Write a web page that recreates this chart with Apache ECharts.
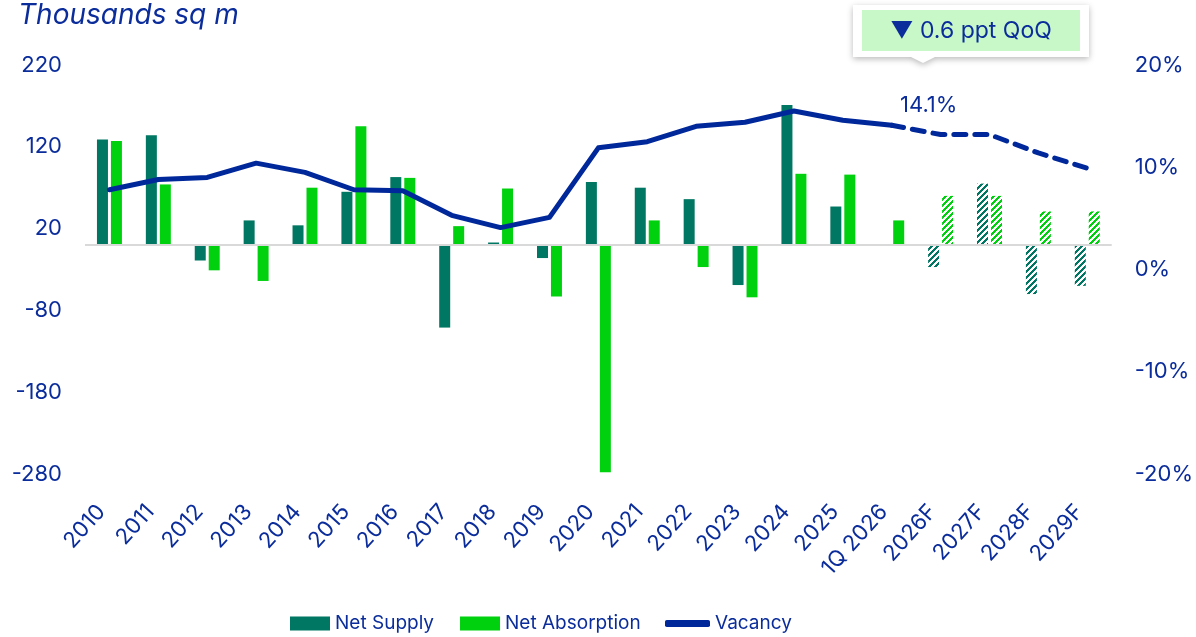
<!DOCTYPE html>
<html>
<head>
<meta charset="utf-8">
<script src="https://cdn.jsdelivr.net/npm/echarts@6/dist/echarts.min.js"></script>
<style>
  html, body { margin: 0; padding: 0; background: #ffffff; }
  #chart { width: 1196px; height: 637px; }
</style>
</head>
<body>
<div id="chart"></div>
<script>
// Office market: net supply / net absorption (thousands sq m) and vacancy rate (%)
const categories = ['2010', '2011', '2012', '2013', '2014', '2015', '2016', '2017', '2018', '2019',
  '2020', '2021', '2022', '2023', '2024', '2025', '1Q 2026', '2026F', '2027F', '2028F', '2029F'];
const netSupply = [129, 134, -19, 30, 24, 65, 83, -101, 3, -16, 77, 70, 56, -49, 171, 47, 0, -27, 75, -60, -50];
const netAbsorption = [127, 74, -31, -44, 70, 145, 82, 23, 69, -63, -278, 30, -27, -64, 87, 86, 30, 60, 60, 41, 41];
const vacancy = [7.8, 8.8, 9.0, 10.4, 9.5, 7.8, 7.7, 5.3, 4.1, 5.1, 11.9, 12.5, 14.0, 14.4, 15.5, 14.6, 14.1, 13.2, 13.2, 11.4, 9.9];
const forecastFrom = 17;          // first forecast category (2026F)
const lastActual = 16;            // 1Q 2026
const leftTicks = { min: -280, max: 220, interval: 100 };
const rightTicks = { min: -20, max: 20, interval: 10 };
const changeNote = '\u25BC 0.6 ppt QoQ';

const NAVY = '#0B2D9B';
const LINE = '#00289B';
const TEAL = '#007762';
const GREEN = '#00D10F';
const FONT = 'Inter';

// Hatched fill for forecast bars: "/" diagonal stripes
function stripes(color) {
  const c = document.createElement('canvas');
  c.width = 6; c.height = 6;
  const ctx = c.getContext('2d');
  ctx.fillStyle = '#ffffff';
  ctx.fillRect(0, 0, 6, 6);
  ctx.fillStyle = color;
  for (let y = 0; y < 6; y++) {
    for (let x = 0; x < 6; x++) {
      if ((x + y) % 6 < 3) ctx.fillRect(x, y, 1, 1);
    }
  }
  return { image: c, repeat: 'repeat' };
}

function barData(values, color) {
  const hatch = stripes(color);
  return values.map((v, i) => i >= forecastFrom
    ? { value: v, itemStyle: { color: hatch } }
    : v);
}

const solidVac = vacancy.map((v, i) => i <= lastActual ? v : null);
const dashedVac = vacancy.map((v, i) => i >= lastActual ? v : null);

const chart = echarts.init(document.getElementById('chart'), null, { renderer: 'canvas' });

chart.setOption({
  animation: false,
  textStyle: { fontFamily: FONT, color: NAVY },
  title: {
    text: 'Thousands sq m',
    left: 13, top: -3,
    textStyle: { fontFamily: FONT, fontStyle: 'italic', fontWeight: 'normal', fontSize: 28, color: NAVY }
  },
  grid: { left: 85, right: 84, top: 65, bottom: 163, containLabel: false },
  legend: [
    {
      data: [{ name: 'Net Supply', icon: 'rect' }, { name: 'Net Absorption', icon: 'rect' }],
      left: 290, top: 614, padding: 0,
      itemWidth: 40, itemHeight: 14, itemGap: 26,
      textStyle: { fontFamily: FONT, fontSize: 19, color: NAVY }
    },
    {
      data: [{ name: 'Vacancy', icon: 'roundRect' }],
      left: 665, top: 614, padding: 0,
      itemWidth: 45, itemHeight: 7,
      textStyle: { fontFamily: FONT, fontSize: 19, color: NAVY }
    }
  ],
  xAxis: {
    type: 'category',
    data: categories,
    axisLine: { show: false },
    axisTick: { show: false },
    axisLabel: {
      rotate: 48, margin: 25, fontSize: 22, color: NAVY, fontFamily: FONT, interval: 0,
      padding: [0, 12, 0, 0]
    }
  },
  yAxis: [
    {
      type: 'value',
      min: leftTicks.min, max: leftTicks.max, interval: leftTicks.interval,
      axisLine: { show: false }, axisTick: { show: false }, splitLine: { show: false },
      axisLabel: { fontSize: 22, color: NAVY, fontFamily: FONT, margin: 23 }
    },
    {
      type: 'value',
      min: rightTicks.min, max: rightTicks.max, interval: rightTicks.interval,
      axisLine: { show: false }, axisTick: { show: false }, splitLine: { show: false },
      axisLabel: { fontSize: 22, color: NAVY, fontFamily: FONT, margin: 23, formatter: '{value}%' }
    }
  ],
  series: [
    {
      name: 'Net Supply',
      type: 'bar',
      yAxisIndex: 0,
      barWidth: 11,
      barGap: '27%',
      itemStyle: { color: TEAL },
      data: barData(netSupply, TEAL),
      markLine: {
        silent: true,
        symbol: 'none',
        label: { show: false },
        lineStyle: { color: '#D9D9D9', width: 2, type: 'solid' },
        data: [{ yAxis: 0 }]
      },
      z: 2
    },
    {
      name: 'Net Absorption',
      type: 'bar',
      yAxisIndex: 0,
      barWidth: 11,
      itemStyle: { color: GREEN },
      data: barData(netAbsorption, GREEN),
      z: 2
    },
    {
      name: 'Vacancy',
      type: 'line',
      yAxisIndex: 1,
      data: solidVac.map((v, i) => i === lastActual
        ? {
            value: v,
            label: {
              show: true,
              formatter: p => p.value.toFixed(1) + '%',
              position: 'top', distance: 4, offset: [37, -5],
              fontSize: 22, color: NAVY, fontFamily: FONT
            }
          }
        : v),
      showSymbol: true,
      symbol: 'circle',
      symbolSize: 0,
      lineStyle: { color: LINE, width: 5, cap: 'round', join: 'round' },
      itemStyle: { color: LINE },
      label: { show: false },
      z: 5
    },
    {
      name: 'Vacancy',
      type: 'line',
      yAxisIndex: 1,
      data: dashedVac,
      showSymbol: false,
      symbol: 'none',
      lineStyle: { color: LINE, width: 5, type: [12, 9], cap: 'round', join: 'round' },
      itemStyle: { color: LINE },
      z: 5
    }
  ],
  graphic: [
    {
      type: 'group',
      children: [
        {
          type: 'polygon',
          shape: { points: [[853, 5], [1089, 5], [1089, 57], [935, 57], [923, 63], [911, 57], [853, 57]] },
          style: { fill: '#ffffff', shadowBlur: 6, shadowOffsetY: 2, shadowColor: 'rgba(0,0,0,0.28)' }
        },
        {
          type: 'rect',
          shape: { x: 862, y: 10, width: 218, height: 41 },
          style: { fill: '#C8F7C8' }
        },
        {
          type: 'text',
          x: 971, y: 31,
          style: {
            text: changeNote, fill: NAVY, font: '23px Inter, "DejaVu Sans", sans-serif',
            align: 'center', verticalAlign: 'middle'
          }
        }
      ]
    }
  ]
});
</script>
</body>
</html>
